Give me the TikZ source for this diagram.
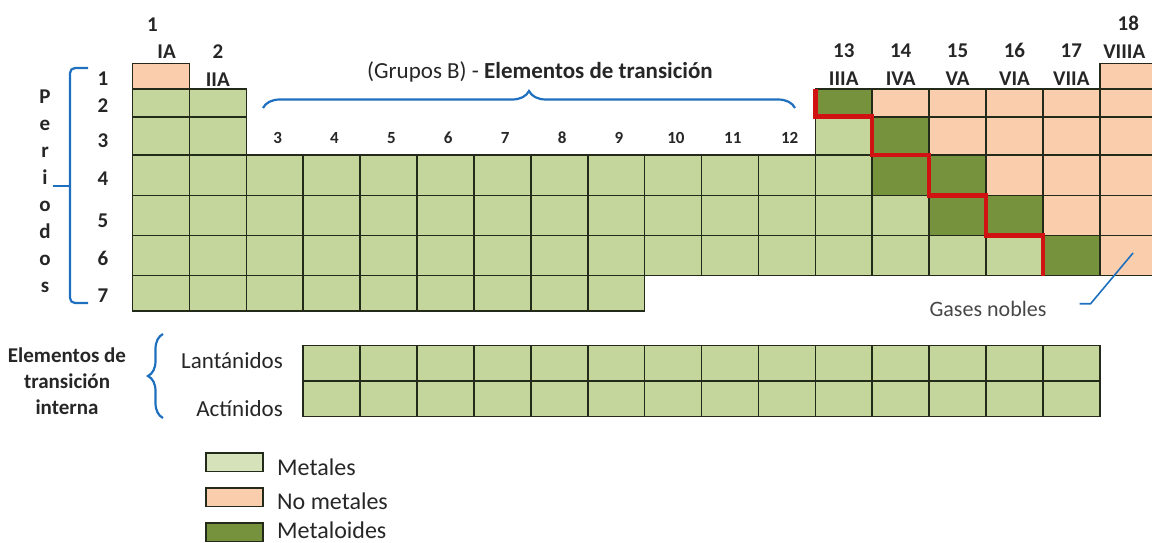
\documentclass[tikz,border=0pt]{standalone}
\usepackage{fontspec}
\setmainfont{Carlito}
\usepackage{tikz}
\usepackage{xcolor}
\usetikzlibrary{decorations.pathreplacing}

\definecolor{metal}{RGB}{196,214,155}
\definecolor{nometal}{RGB}{250,206,172}
\definecolor{metaloide}{RGB}{118,146,60}
\definecolor{borde}{RGB}{36,42,26}
\definecolor{llave}{RGB}{30,112,190}
\definecolor{escalera}{RGB}{208,18,18}
\definecolor{texto}{RGB}{38,38,38}

\begin{document}
\begin{tikzpicture}[x=1pt,y=-1pt,
	celda/.style={draw=borde,line width=1.6pt,fill=metal},
	escalon/.style={draw=escalera,line width=4.5pt},
	llaveazul/.style={draw=llave,line width=2.2pt},
	etq/.style={text=texto,inner sep=0pt,anchor=base,font=\bfseries\fontsize{21}{25}\selectfont},
	etqb/.style={etq,font=\bfseries\fontsize{17}{20}\selectfont},
	etqn/.style={text=texto,inner sep=0pt,anchor=base,font=\fontsize{22}{26}\selectfont}]
\useasboundingbox (0,0) rectangle (1152,542);

\begin{scope}[x=56.9pt,xshift=75.6pt]
% metales
\foreach \ya/\yb/\cols in {63.3/88.7/{1,18},88.7/116.7/{1,2,13,14,15,16,17,18},116.7/155/{1,2,13,14,15,16,17,18},155/195.5/{1,...,18},195.5/235.5/{1,...,18},235.5/275.5/{1,...,18},275.5/310.7/{1,...,9}}
{
	\foreach \c in \cols
	{
		\draw[celda] (\c,\ya) rectangle (\c+1,\yb);
	}
}
% no metales
\foreach \ya/\yb/\cols in {63.3/88.7/{1,18},88.7/116.7/{14,...,18},116.7/155/{15,...,18},155/195.5/{16,17,18},195.5/235.5/{17,18},235.5/275.5/{18}}
{
	\foreach \c in \cols
	{
		\draw[celda,fill=nometal] (\c,\ya) rectangle (\c+1,\yb);
	}
}
% metaloides
\foreach \c/\ya/\yb in {13/88.7/116.7,14/116.7/155,14/155/195.5,15/155/195.5,15/195.5/235.5,16/195.5/235.5,17/235.5/275.5}
{
	\draw[celda,fill=metaloide] (\c,\ya) rectangle (\c+1,\yb);
}
\draw[escalon] (13,88.7) |- (14,116.7) |- (15,155) |- (16,195.5) |- (17,235.5) -- (17,275.5);

% lantanidos y actinidos
\foreach \ya/\yb in {345.5/381,381/416.3}
{
	\foreach \c in {4,...,17}
	{
		\draw[celda] (\c,\ya) rectangle (\c+1,\yb);
	}
}

\node[etq] (n1) at (1.35,31) {1};
\node[etq] (r1) at (1.6,58) {IA};
\node[etq] (n2) at (2.5,58) {2};
\node[etq] (r2) at (2.5,86) {IIA};
\foreach \c in {3,...,12}
{
	\node[etqb] (n\c) at (\c+0.55,143.5) {\c};
}
\foreach \c/\r in {13/IIIA,14/IVA,15/VA,16/VIA,17/VIIA}
{
	\node[etq] (n\c) at (\c+0.5,57) {\c};
	\node[etq] (r\c) at (\c+0.5,85) {\r};
}
\node[etq] (n18) at (18.5,30.6) {18};
\node[etq] (r18) at (18.43,58) {VIIIA};
\end{scope}

\foreach \p/\yy in {1/85,2/112,3/147,4/185,5/227,6/265,7/302}
{
	\node[etq] (p\p) at (103,\yy) {\p};
}
\foreach \l [count=\k] in {P,e,r,i,o,d,o,s}
{
	\node[etq] (l\k) at (45,{76+27*\k}) {\l};
}
\draw[llaveazul,rounded corners=5pt] (88,68) -- (70,68) -- (70,303) -- (88,303);
\draw[llaveazul] (70,186) -- (53,186);

\node[etqn,font=\fontsize{23}{27}\selectfont] (titulo) at (540,78) {(Grupos B) - \textbf{Elementos de transición}};
\draw[llaveazul,decorate,decoration={brace,amplitude=17pt}] (263,108) -- (795,108);

\node[etqn,text=black!72] (gases) at (988,316.7) {Gases nobles};
\coordinate (gasesfin) at (1133,253);
\draw[llaveazul,line width=1.6pt] ([xshift=33pt,yshift=13pt]gases.base east) -- ++(11,0) -- (gasesfin);

\node[etq,anchor=center,align=center,font=\bfseries\fontsize{21}{26}\selectfont] (interna) at (67,381) {Elementos de\\transición\\interna};
\draw[llaveazul,decorate,decoration={brace,amplitude=15pt}] (163,418) -- (163,334);
\node[etqn,anchor=base east,font=\fontsize{23}{27}\selectfont] (lan) at (283,368) {Lantánidos};
\node[etqn,anchor=base east,font=\fontsize{23}{27}\selectfont] (act) at (283,416) {Actínidos};

% leyenda
\foreach \f/\t/\ya/\yb [count=\k] in {metal!70!white/Metales/453/475,nometal/No metales/488/509.5,metaloide/Metaloides/523/538}
{
	\draw[draw=borde,line width=1.8pt,fill=\f] (206,\ya) rectangle (263,\ya+18.5);
	\node[etqn,anchor=base west,font=\fontsize{24}{28}\selectfont] (ley\k) at (277,\yb) {\t};
}

\end{tikzpicture}
\end{document}
